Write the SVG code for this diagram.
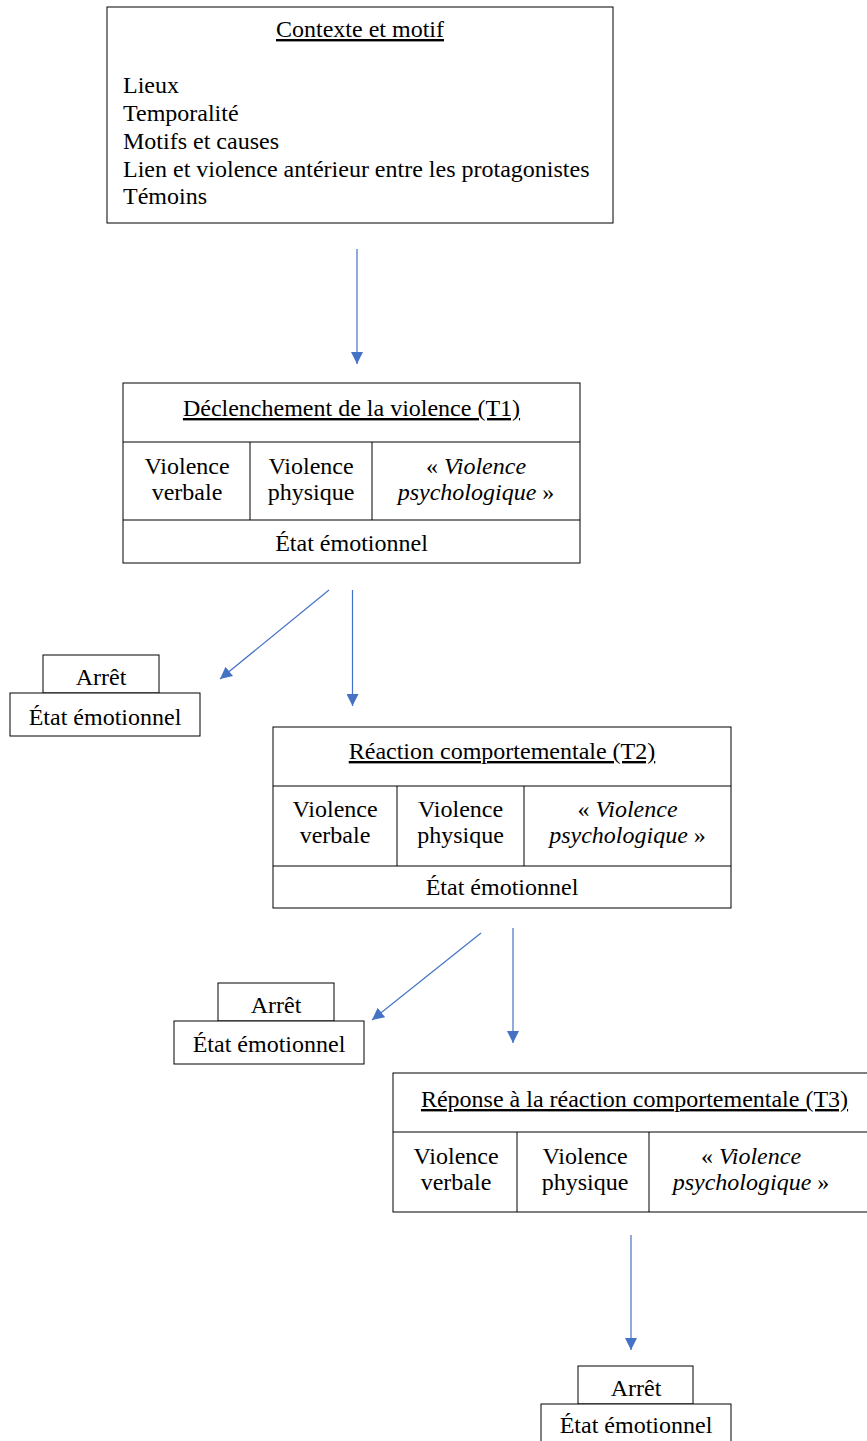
<svg xmlns="http://www.w3.org/2000/svg" width="867" height="1441" viewBox="0 0 867 1441">
<style>
text{font-family:"Liberation Serif","Times New Roman",serif;font-size:24px;fill:#000}
.c{text-anchor:middle}
.u{text-decoration:underline}
.i{font-style:italic}
.b{fill:#fff;stroke:#000;stroke-width:1}
.l{stroke:#000;stroke-width:1}
.a{stroke:#4472C4;stroke-width:1.2;fill:none}
</style>
<defs>
<marker id="ah" markerUnits="userSpaceOnUse" markerWidth="13" markerHeight="12" refX="12" refY="6" orient="auto" viewBox="0 0 13 12">
<path d="M0,0 L12,6 L0,12 z" fill="#4472C4"/>
</marker>
</defs>
<rect width="867" height="1441" fill="#fff"/>

<g id="contexte">
<rect class="b" x="107" y="7" width="506" height="216"/>
<text class="c u" x="360" y="37">Contexte et motif</text>
<text x="123" y="93">Lieux</text>
<text x="123" y="121">Temporalité</text>
<text x="123" y="149">Motifs et causes</text>
<text x="123" y="177">Lien et violence antérieur entre les protagonistes</text>
<text x="123" y="204">Témoins</text>
</g>

<g id="t1">
<rect class="b" x="123" y="383" width="457" height="180"/>
<line class="l" x1="123" y1="442" x2="580" y2="442"/>
<line class="l" x1="123" y1="520" x2="580" y2="520"/>
<line class="l" x1="250" y1="442" x2="250" y2="520"/>
<line class="l" x1="372" y1="442" x2="372" y2="520"/>
<text class="c u" x="351.5" y="416">Déclenchement de la violence (T1)</text>
<text class="c" x="187" y="474">Violence</text>
<text class="c" x="187" y="500">verbale</text>
<text class="c" x="311" y="474">Violence</text>
<text class="c" x="311" y="500">physique</text>
<text class="c" x="476" y="474">« <tspan class="i">Violence</tspan></text>
<text class="c" x="476" y="500"><tspan class="i">psychologique</tspan> »</text>
<text class="c" x="351.5" y="551">État émotionnel</text>
</g>

<g id="arret1">
<rect class="b" x="43" y="655" width="116" height="38"/>
<rect class="b" x="10" y="693" width="190" height="43"/>
<text class="c" x="101" y="685">Arrêt</text>
<text class="c" x="105" y="725">État émotionnel</text>
</g>

<g id="t2">
<rect class="b" x="273" y="727" width="458" height="181"/>
<line class="l" x1="273" y1="786" x2="731" y2="786"/>
<line class="l" x1="273" y1="866" x2="731" y2="866"/>
<line class="l" x1="397" y1="786" x2="397" y2="866"/>
<line class="l" x1="524" y1="786" x2="524" y2="866"/>
<text class="c u" x="502" y="759">Réaction comportementale (T2)</text>
<text class="c" x="335" y="817">Violence</text>
<text class="c" x="335" y="843">verbale</text>
<text class="c" x="460.5" y="817">Violence</text>
<text class="c" x="460.5" y="843">physique</text>
<text class="c" x="627.5" y="817">« <tspan class="i">Violence</tspan></text>
<text class="c" x="627.5" y="843"><tspan class="i">psychologique</tspan> »</text>
<text class="c" x="502" y="895">État émotionnel</text>
</g>

<g id="arret2">
<rect class="b" x="218" y="983" width="116" height="38"/>
<rect class="b" x="174" y="1021" width="190" height="43"/>
<text class="c" x="276" y="1013">Arrêt</text>
<text class="c" x="269" y="1052">État émotionnel</text>
</g>

<g id="t3">
<rect class="b" x="393" y="1073" width="490" height="139"/>
<line class="l" x1="393" y1="1132" x2="883" y2="1132"/>
<line class="l" x1="517" y1="1132" x2="517" y2="1212"/>
<line class="l" x1="649" y1="1132" x2="649" y2="1212"/>
<text class="c u" x="634.5" y="1107">Réponse à la réaction comportementale (T3)</text>
<text class="c" x="456" y="1164">Violence</text>
<text class="c" x="456" y="1190">verbale</text>
<text class="c" x="585" y="1164">Violence</text>
<text class="c" x="585" y="1190">physique</text>
<text class="c" x="751" y="1164">« <tspan class="i">Violence</tspan></text>
<text class="c" x="751" y="1190"><tspan class="i">psychologique</tspan> »</text>
</g>

<g id="arret3">
<rect class="b" x="578" y="1366" width="115" height="38"/>
<rect class="b" x="541" y="1404" width="190" height="50"/>
<text class="c" x="636" y="1396">Arrêt</text>
<text class="c" x="636" y="1433">État émotionnel</text>
</g>

<g id="connectors">
<line class="a" x1="357" y1="249" x2="357" y2="364" marker-end="url(#ah)"/>
<line class="a" x1="329" y1="590" x2="220" y2="679" marker-end="url(#ah)"/>
<line class="a" x1="352.5" y1="590" x2="352.5" y2="706" marker-end="url(#ah)"/>
<line class="a" x1="481" y1="933" x2="372" y2="1020" marker-end="url(#ah)"/>
<line class="a" x1="513" y1="928" x2="513" y2="1043" marker-end="url(#ah)"/>
<line class="a" x1="631" y1="1235" x2="631" y2="1350" marker-end="url(#ah)"/>
</g>
</svg>
